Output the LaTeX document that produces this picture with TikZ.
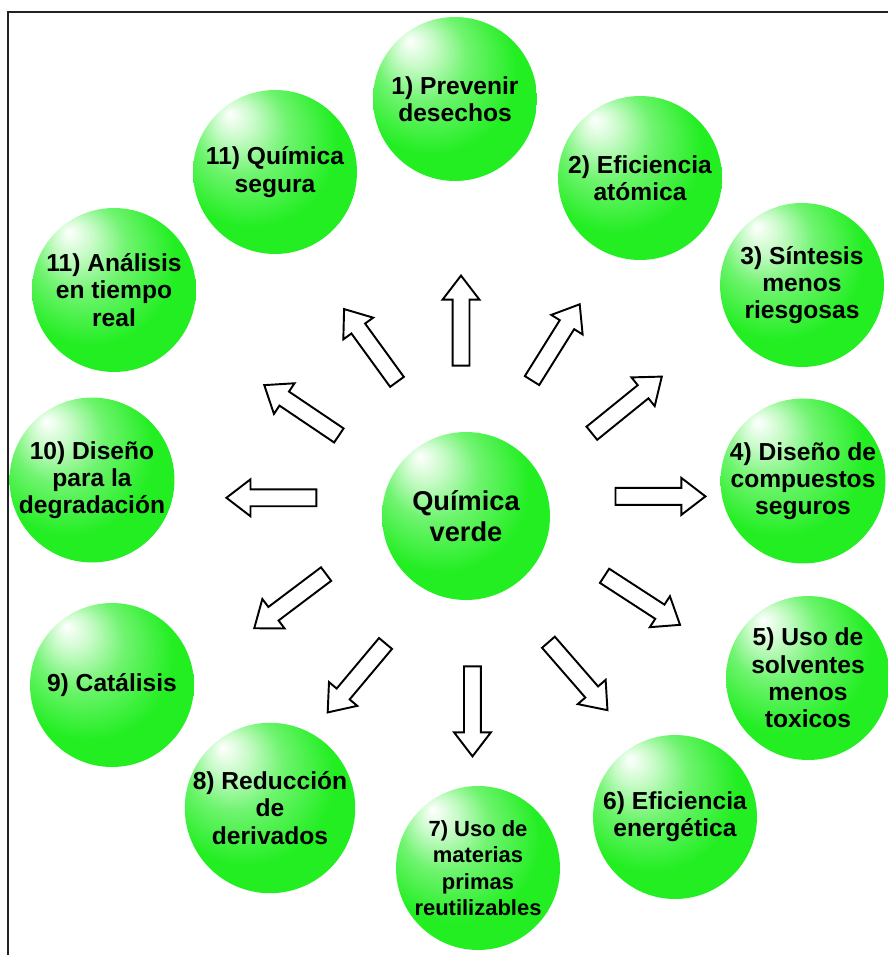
\documentclass[tikz,border=0pt]{standalone}
\usepackage{fontspec}
\setmainfont{Liberation Sans}
\usetikzlibrary{shapes.arrows, calc}
\definecolor{ballGreen}{HTML}{22EE22}
\definecolor{ballEdge}{HTML}{14CC14}
\definecolor{frameDark}{HTML}{222222}
\pgfdeclareradialshading{greenBall}{\pgfpoint{-14bp}{18bp}}{%
  color(0bp)=(white); color(6bp)=(white!75!ballGreen); color(14bp)=(white!35!ballGreen);
  color(26bp)=(ballGreen); color(40bp)=(ballGreen); color(52bp)=(ballEdge)}
\tikzset{
  ball/.style={circle, shading=greenBall, minimum size=3.28cm, inner sep=0pt,
               align=center, font=\fontsize{14}{15.5}\selectfont\bfseries},
  ballC/.style={ball, minimum size=3.36cm, font=\fontsize{15.5}{18}\selectfont\bfseries},
  arrowW/.style={single arrow, draw=black, fill=white, line width=1.1pt,
                 minimum height=1.8cm, inner sep=0.15cm, single arrow head extend=0.2cm,
                 single arrow tip angle=75},
}

\begin{document}
\begin{tikzpicture}[x=0.02cm, y=-0.02cm]
  \useasboundingbox (0,0) rectangle (887,955);
  \draw[frameDark, line width=1.1pt] (8,965) -- (8,12) -- (897,12);

  % centro
  \node[ballC] (qv) at (466,516) {Química\\verde};

  % principios
  \node[ball] (prev) at (455,99)  {1) Prevenir\\desechos};
  \node[ball] (efat) at (640,178) {2) Eficiencia\\atómica};
  \node[ball] (sint) at (802,285) {3) Síntesis\\menos\\riesgosas};
  \node[ball] (dis)  at (803,481) {4) Diseño de\\compuestos\\seguros};
  \node[ball] (solv) at (808,678) {5) Uso de\\solventes\\menos\\toxicos};
  \node[ball] (efen) at (675,817) {6) Eficiencia\\energética};
  \node[ball, font=\fontsize{12.5}{15}\selectfont\bfseries]
              (mat)  at (478,868) {7) Uso de\\materias\\primas\\reutilizables};
  \node[ball] (red)  at (270,808) {8) Reducción\\de\\derivados};
  \node[ball] (cat)  at (112,685) {9) Catálisis};
  \node[ball] (degr) at (92,480)  {10) Diseño\\para la\\degradación};
  \node[ball] (anal) at (114,290) {11) Análisis\\en tiempo\\real};
  \node[ball] (qseg) at (275,172) {11) Química\\segura};

  % flechas
  \foreach \n/\a in {prev/90, efat/58, sint/39, dis/0, solv/-33, efen/-49,
                     mat/-90, red/-130, cat/-143, degr/180, anal/146, qseg/126}
    \node[arrowW, rotate=\a] (f-\n) at ($(qv.center)!3.8cm!(\n)$) {};
\end{tikzpicture}
\end{document}
